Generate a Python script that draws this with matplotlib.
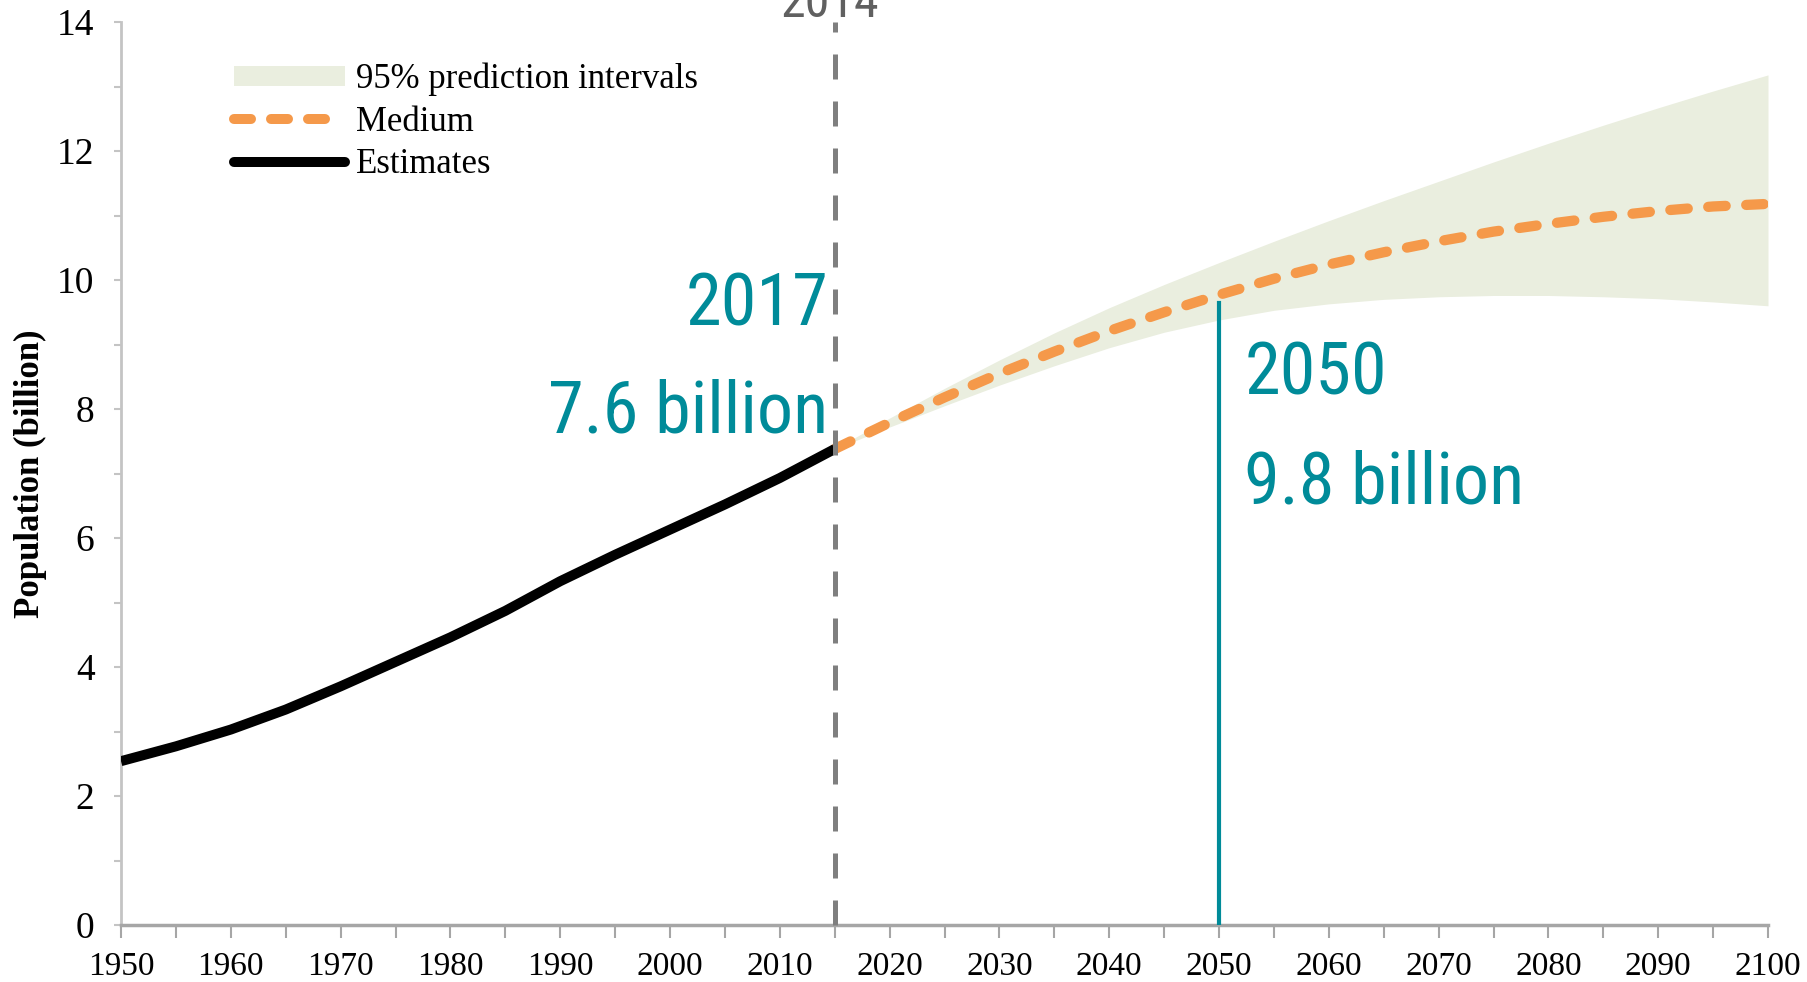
"""World population: estimates 1950-2015 and medium projection to 2100."""
import numpy as np
import matplotlib; matplotlib.use("Agg")
import matplotlib.pyplot as plt
from matplotlib.ticker import MultipleLocator
from matplotlib.lines import Line2D
from matplotlib.patches import Patch

# estimates, billions
est_years = [1950, 1955, 1960, 1965, 1970, 1975, 1980, 1985, 1990, 1995, 2000, 2005, 2010, 2015]
est_pop = [2.54, 2.77, 3.03, 3.34, 3.70, 4.08, 4.46, 4.87, 5.33, 5.74, 6.13, 6.52, 6.93, 7.38]

# medium variant + 95% prediction interval, billions
proj_years = [2015, 2020, 2025, 2030, 2035, 2040, 2045, 2050, 2055, 2060,
              2065, 2070, 2075, 2080, 2085, 2090, 2095, 2100]
medium = [7.38, 7.79, 8.18, 8.55, 8.89, 9.21, 9.50, 9.77, 10.02, 10.24,
          10.43, 10.60, 10.75, 10.87, 10.98, 11.07, 11.14, 11.18]
upper95 = [7.38, 7.86, 8.32, 8.76, 9.18, 9.57, 9.93, 10.27, 10.60, 10.92,
           11.23, 11.53, 11.83, 12.12, 12.40, 12.67, 12.93, 13.18]
lower95 = [7.38, 7.72, 8.05, 8.37, 8.67, 8.95, 9.19, 9.38, 9.53, 9.63,
           9.70, 9.74, 9.76, 9.76, 9.74, 9.71, 9.66, 9.60]

base_year, base_label = 2015, "2014"
callouts = [(2017, 7.6), (2050, 9.8)]

TEAL = '#008B99'
ORANGE = '#F5994A'
BAND = '#EAEEDF'
NARROW = ['Roboto Condensed', 'Liberation Sans Narrow', 'DejaVu Sans']
SERIF = 'Liberation Serif'

fig = plt.figure(figsize=(18.08, 9.82), dpi=100)
ax = fig.add_axes([121/1808, 57/982, 1647/1808, 903/982])

ax.fill_between(proj_years, lower95, upper95, color=BAND, lw=0, zorder=1)
ax.plot(proj_years, medium, color=ORANGE, lw=7.4, dashes=(1.7, 2.0),
        dash_capstyle='round', zorder=3)
ax.plot(est_years, est_pop, color='black', lw=7.2, solid_capstyle='butt', zorder=3)

# base year marker
ax.plot([base_year, base_year], [0, 14], color='#7F7F7F', lw=3.6,
        dashes=(5.0, 4.4), zorder=4, clip_on=False)
ax.text(base_year - 0.4, 14.08, base_label, color='#606060', fontsize=36,
        family=NARROW, ha='center', va='baseline', clip_on=False)

# 2050 marker
y50 = medium[proj_years.index(2050)]
ax.plot([2050, 2050], [0, y50 - 0.13], color=TEAL, lw=3, zorder=5)

(yr0, v0), (yr1, v1) = callouts
ax.text(2014.4, 9.30, f'{yr0}', color=TEAL, fontsize=52, family=NARROW,
        ha='right', va='baseline')
ax.text(2014.4, 7.64, f'{v0} billion', color=TEAL, fontsize=52, family=NARROW,
        ha='right', va='baseline')
ax.text(2052.3, 8.22, f'{yr1}', color=TEAL, fontsize=52, family=NARROW,
        ha='left', va='baseline')
ax.text(2052.3, 6.54, f'{v1} billion', color=TEAL, fontsize=52, family=NARROW,
        ha='left', va='baseline')

ax.set_xlim(1950, 2100)
ax.set_ylim(0, 14)
ax.xaxis.set_major_locator(MultipleLocator(10))
ax.xaxis.set_minor_locator(MultipleLocator(5))
ax.yaxis.set_major_locator(MultipleLocator(2))
ax.yaxis.set_minor_locator(MultipleLocator(1))

for s in ['top', 'right']:
    ax.spines[s].set_visible(False)
ax.spines['left'].set_color('#C4C4C4')
ax.spines['left'].set_linewidth(2)
ax.spines['bottom'].set_color('#A6A6A6')
ax.spines['bottom'].set_linewidth(2.5)

ax.tick_params(axis='y', which='both', direction='out', color='#C4C4C4',
               width=1.5, length=5, pad=14, labelsize=27)
ax.tick_params(axis='x', which='both', direction='out', color='#A6A6A6',
               width=1.5, length=9, pad=10, labelsize=24)
for lab in ax.get_xticklabels() + ax.get_yticklabels():
    lab.set_family(SERIF)

ax.set_ylabel('Population (billion)', family=SERIF, fontsize=25,
              fontweight='bold', labelpad=7)

handles = [
    Patch(facecolor=BAND, edgecolor='none'),
    Line2D([], [], color=ORANGE, lw=7.2, dashes=(1.7, 2.0), dash_capstyle='round'),
    Line2D([], [], color='black', lw=7.2, solid_capstyle='round'),
]
labels = ['95% prediction intervals', 'Medium', 'Estimates']
ax.legend(handles, labels, loc='upper left', bbox_to_anchor=(0.0686, 0.955),
          frameon=False, borderpad=0, borderaxespad=0, handlelength=3.2,
          handleheight=0.5, handletextpad=0.3, labelspacing=0.27,
          prop={'family': SERIF, 'size': 25})

fig.savefig('out.png', dpi=100)
